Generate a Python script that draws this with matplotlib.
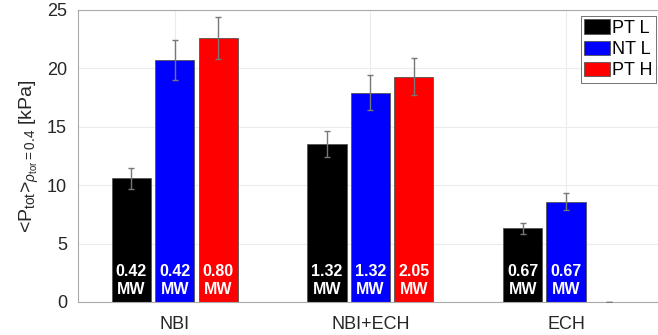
import numpy as np
import matplotlib.pyplot as plt

plt.rcParams['font.family'] = ['Liberation Sans', 'DejaVu Sans']
plt.rcParams['mathtext.fontset'] = 'custom'
plt.rcParams['mathtext.rm'] = 'Liberation Sans'
plt.rcParams['mathtext.it'] = 'Liberation Sans:italic'

groups = ['NBI', 'NBI+ECH', 'ECH']
series = ['PT L', 'NT L', 'PT H']
colors = ['black', 'blue', 'red']
p_ptl = [10.6, 13.5, 6.3]
p_ntl = [20.7, 17.9, 8.6]
p_pth = [22.6, 19.3, 0.0]
err_ptl = [0.9, 1.1, 0.5]
err_ntl = [1.7, 1.5, 0.7]
err_pth = [1.8, 1.6, 0.0]
pow_ptl = ['0.42', '1.32', '0.67']
pow_ntl = ['0.42', '1.32', '0.67']
pow_pth = ['0.80', '2.05', '']

vals = [p_ptl, p_ntl, p_pth]
errs = [err_ptl, err_ntl, err_pth]
pows = [pow_ptl, pow_ntl, pow_pth]

fig = plt.figure(figsize=(6.58, 3.35), dpi=100)
ax = fig.add_axes([78/658, 33/335, 1 - 78/658, 292/335])

x = np.arange(1, len(groups) + 1)
w = 0.2
off = 0.222
for i in range(3):
    xi = x + (i - 1) * off
    ax.bar(xi, vals[i], width=w, color=colors[i], edgecolor='#555555', linewidth=0.6, label=series[i], zorder=2)
    ax.errorbar(xi, vals[i], yerr=errs[i], fmt='none', ecolor='#777777', elinewidth=1, capsize=2, capthick=1, zorder=3)
    for j in range(len(groups)):
        if pows[i][j]:
            ax.text(xi[j], 0.45, pows[i][j] + '\nMW', color='white', fontsize=11.5, fontweight='bold',
                    ha='center', va='bottom', linespacing=1.25, zorder=4)

ax.set_xlim(0.505, 3.47)
ax.set_ylim(0, 25)
ax.set_xticks(x)
ax.set_xticklabels(groups)
ax.set_yticks(np.arange(0, 26, 5))
ax.tick_params(labelsize=13, direction='in', length=0)
ax.tick_params(axis='x', labelcolor='#262626', pad=10)
ax.tick_params(axis='y', labelcolor='#262626', pad=8)
ax.grid(True, color='#ececec', linewidth=0.8, zorder=0)
ax.set_axisbelow(True)
for s in ['left', 'bottom', 'top']:
    ax.spines[s].set_color('#aaaaaa')
    ax.spines[s].set_linewidth(0.8)
ax.spines['right'].set_visible(False)

ax.set_ylabel(r'<P$_{\rm tot}$>$_{\rho_{\rm tor}\rm =0.4}$ [kPa]', fontsize=14, color='#262626', labelpad=4)

leg = ax.legend(loc='upper right', bbox_to_anchor=(0.997, 0.98), fontsize=13, frameon=True, fancybox=False,
                edgecolor='#333333', handlelength=1.45, handleheight=0.85, handletextpad=0.1,
                borderpad=0.2, labelspacing=0.2, borderaxespad=0)
leg.get_frame().set_linewidth(0.6)

fig.savefig('out.png', dpi=100)
